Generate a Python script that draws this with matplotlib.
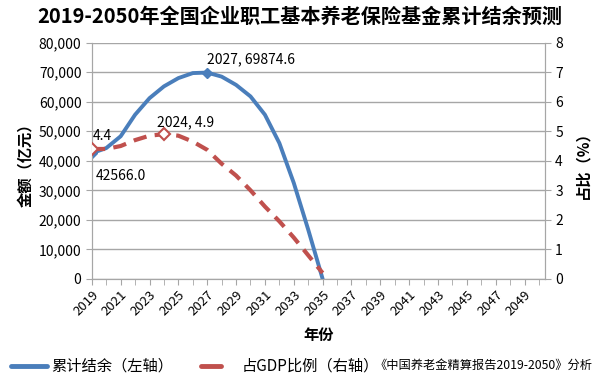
import matplotlib.pyplot as plt
from matplotlib.lines import Line2D
import numpy as np

plt.rcParams['font.family'] = ['Noto Sans CJK SC', 'DejaVu Sans']

# Data
years = [2019, 2020, 2021, 2022, 2023, 2024, 2025, 2026, 2027,
         2028, 2029, 2030, 2031, 2032, 2033, 2034, 2035]
balance = [42566.0, 44300, 48300, 55600, 61200, 65200, 68000, 69700, 69874.6,
           68500, 65700, 61800, 55600, 46000, 32500, 16700, 0]
gdp_share = [4.4, 4.4, 4.5, 4.7, 4.85, 4.9, 4.85, 4.65, 4.37,
             3.9, 3.5, 3.0, 2.45, 1.95, 1.4, 0.8, 0.2]
tick_years = list(range(2019, 2051, 2))
series_names = ['累计结余（左轴）', '占GDP比例（右轴）']

blue = '#4a7ebb'
red = '#c0504d'
grid_c = '#a6a6a6'

fig = plt.figure(figsize=(6, 3.81), dpi=100)
ax = fig.add_axes([0.153, 0.268, 0.755, 0.62])
ax2 = ax.twinx()

# Lines
ax.plot(years, balance, color=blue, lw=2.8, zorder=3, solid_capstyle='round')
ax.plot([years[0], years[8]], [balance[0], balance[8]], ls='none', marker='D',
        ms=5, color=blue, zorder=4)
ax2.plot(years, gdp_share, color=red, lw=3.0, dashes=(3.2, 2.0), zorder=3)
ax2.plot([years[0], years[5]], [gdp_share[0], gdp_share[5]], ls='none', marker='D',
         ms=6, mfc='white', mec=red, mew=1.5, zorder=4)

# Axes ranges
ax.set_xlim(2019, 2050.4)
ax.set_ylim(0, 80000)
ax2.set_ylim(0, 8)

ax.set_yticks(np.arange(0, 80001, 10000))
ax.set_yticklabels([f'{v:,}' for v in range(0, 80001, 10000)])
ax2.set_yticks(range(0, 9))
ax.set_xticks(tick_years)
ax.set_xticklabels([str(y) for y in tick_years], rotation=45, ha='right',
                   rotation_mode='anchor')
ax.set_xticks(range(2019, 2051), minor=True)

ax.grid(axis='y', color=grid_c, lw=1)
ax.set_axisbelow(True)
for a in (ax, ax2):
    a.spines['top'].set_visible(False)
    for s in ('left', 'right', 'bottom'):
        a.spines[s].set_color(grid_c)
ax.tick_params(axis='both', which='both', color=grid_c, labelsize=10, length=4)
ax.tick_params(axis='x', labelsize=9.5, pad=3)
ax2.tick_params(axis='y', color=grid_c, labelsize=10, length=4)

ax.set_ylabel('金额（亿元）', fontsize=11, fontweight='bold', labelpad=4)
ax2.set_ylabel('占比（%）', fontsize=11, fontweight='bold', rotation=90, labelpad=8)
ax.set_xlabel('年份', fontsize=11, fontweight='bold', labelpad=6)

# Data labels
ax.annotate('2027, 69874.6', (2027, 69874.6), xytext=(2027, 74500),
            fontsize=10, ha='left', va='center')
ax.annotate('42566.0', (2019, 42566.0), xytext=(2019.3, 35000),
            fontsize=10, ha='left', va='center')
ax2.annotate('2024, 4.9', (2024, 4.9), xytext=(2023.5, 5.3),
             fontsize=10, ha='left', va='center')
ax2.annotate('4.4', (2019, 4.4), xytext=(2019.1, 4.85),
             fontsize=10, ha='left', va='center')

fig.suptitle('2019-2050年全国企业职工基本养老保险基金累计结余预测',
             fontsize=14.5, fontweight='heavy', y=0.985)

# Legend drawn by hand (handles differ in length)
ly = 0.04
fig.add_artist(Line2D([0.018, 0.078], [ly, ly], color=blue, lw=3.5,
                      solid_capstyle='round', transform=fig.transFigure))
fig.text(0.085, ly, series_names[0], fontsize=11, ha='left', va='center')
fig.add_artist(Line2D([0.335, 0.368], [ly, ly], color=red, lw=3.5,
                      solid_capstyle='round', transform=fig.transFigure))
fig.text(0.403, ly, series_names[1], fontsize=11, ha='left', va='center')
fig.text(0.625, ly, '《中国养老金精算报告2019-2050》分析', fontsize=8.8,
         ha='left', va='center')

plt.savefig('out.png', dpi=100)
